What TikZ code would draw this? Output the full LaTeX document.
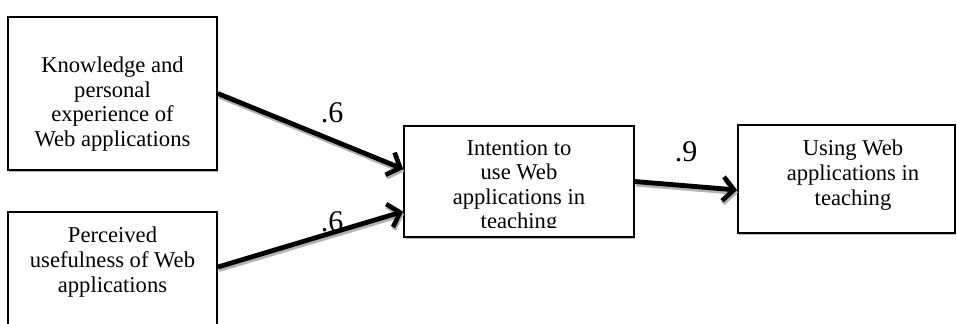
\documentclass[tikz,border=0pt]{standalone}
\usepackage{fontspec}
\setmainfont{Liberation Serif}
\usetikzlibrary{arrows.meta,shadows}

\tikzset{
    factor/.style={draw, line width=0.9pt, fill=white, inner sep=0pt,
        drop shadow={shadow xshift=0.4pt, shadow yshift=-1.2pt, fill=gray!55, opacity=1}},
    factortext/.style={align=center, font=\fontsize{11.3}{12.3}\selectfont, inner sep=0pt},
    path/.style={line width=2.4pt, -{Straight Barb[length=5.5pt, width=12pt, line width=2.3pt]},
        preaction={draw, gray!60, line width=2.4pt, transform canvas={xshift=0.5pt, yshift=-1.3pt}}},
    weight/.style={font=\fontsize{15}{17}\selectfont, inner sep=0pt}
}

\begin{document}
\begin{tikzpicture}[x=0.5pt, y=-0.5pt]

            % Fix the picture size and cut off what runs past the edges
            \clip (0,0) rectangle (957,323);
            \fill[white] (0,0) rectangle (957,323);

            % Predictor boxes on the left
            \node[factor, minimum width=104.5pt, minimum height=76.5pt] (know) at (112.5, 93.5) {};
            \node[factortext] at (112.5, 104) {Knowledge and\\personal\\experience of\\Web applications};

            \node[factor, minimum width=104.5pt, minimum height=66.5pt] (useful) at (112.5, 278.5) {};
            \node[factortext] at (112.5, 262) {Perceived\\usefulness of Web\\applications};

            % Intention box, its last line is cut by the box edge
            \node[factor, minimum width=115pt, minimum height=55.5pt] (intent) at (519, 181.5) {};
            \begin{scope}
                \clip (406,128) rectangle (632,227);
                \node[factortext] at (519, 187) {Intention to\\use Web\\applications in\\teaching};
            \end{scope}

            % Outcome box on the right
            \node[factor, minimum width=108.5pt, minimum height=54pt] (use) at (846.5, 179) {};
            \node[factortext] at (853, 175) {Using Web\\applications in\\teaching};

            % Paths between the boxes
            \draw[path] (know.east) -- ([yshift=6.25pt]intent.west);
            \draw[path] ([yshift=5.75pt]useful.east) -- ([yshift=-15pt]intent.west);
            \draw[path] (intent.east) -- ([yshift=-5.5pt]use.west);

            % Path weights
            \node[weight] (w1) at (332, 113) {.6};
            \node[weight] (w2) at (332, 222) {.6};
            \node[weight] (w3) at (686, 152) {.9};
        \end{tikzpicture}
\end{document}
